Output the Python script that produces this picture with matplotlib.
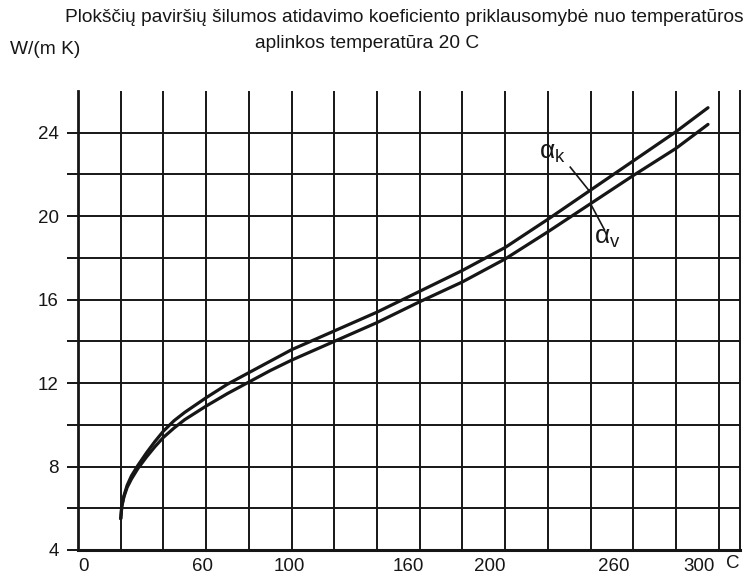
import numpy as np
import matplotlib
matplotlib.use("Agg")
import matplotlib.pyplot as plt
import matplotlib.transforms as mtransforms

# temperature of the plate surface, C
temp = [20, 20.5, 21.5, 23, 25, 28, 32, 36, 40, 45, 50, 60, 70, 80, 90, 100,
        120, 140, 160, 180, 200, 220, 240, 260, 280, 295]
# heat transfer coefficient, W/(m2 K)
alpha_k = [5.5, 6.1, 6.6, 7.1, 7.55, 8.05, 8.65, 9.2, 9.7, 10.2, 10.6, 11.3,
           11.95, 12.5, 13.05, 13.6, 14.5, 15.4, 16.4, 17.4, 18.5, 19.85,
           21.25, 22.65, 24.05, 25.2]
alpha_v = [5.5, 6.1, 6.55, 7.0, 7.4, 7.9, 8.45, 8.95, 9.4, 9.85, 10.25, 10.9,
           11.5, 12.05, 12.6, 13.1, 14.0, 14.9, 15.9, 16.85, 17.95, 19.25,
           20.6, 21.95, 23.25, 24.4]

xtick_vals = [0, 60, 100, 160, 200, 260, 300]
ytick_vals = [4, 8, 12, 16, 20, 24]

INK = "#161616"
plt.rcParams["font.family"] = ["Liberation Sans", "DejaVu Sans"]
plt.rcParams["mathtext.fontset"] = "custom"
plt.rcParams["mathtext.rm"] = "Liberation Sans"
plt.rcParams["mathtext.it"] = "Liberation Sans"

fig = plt.figure(figsize=(7.51, 5.79), dpi=100, facecolor="white")
ax = fig.add_axes([0.1039, 0.0501, 0.8815, 0.7927])
ax.set_xlim(0, 310)
ax.set_ylim(4, 26)

# hand-drawn style grid
for v in np.arange(6, 25, 2):
    ax.axhline(v, color=INK, lw=1.4, zorder=1)
for t in np.arange(20, 301, 20):
    ax.axvline(t, color=INK, lw=1.4, zorder=1)

ax.spines["top"].set_visible(False)
for s in ("left", "bottom", "right"):
    ax.spines[s].set_color(INK)
ax.spines["left"].set_linewidth(2.0)
ax.spines["bottom"].set_linewidth(2.2)
ax.spines["right"].set_linewidth(1.4)

ax.plot(temp, alpha_k, color=INK, lw=2.3, solid_capstyle="round",
        solid_joinstyle="round", zorder=3)
ax.plot(temp, alpha_v, color=INK, lw=2.3, solid_capstyle="round",
        solid_joinstyle="round", zorder=3)

# curve labels with leaders
ax.plot([230.5, 239.5], [22.35, 21.2], color=INK, lw=1.2, zorder=4)
ax.plot([240.5, 246.5], [20.5, 19.35], color=INK, lw=1.2, zorder=4)
ax.text(222, 23.05, r"$\alpha_k$", fontsize=19, ha="center", va="center", color=INK)
ax.text(248, 18.95, r"$\alpha_v$", fontsize=19, ha="center", va="center", color=INK)

ax.set_yticks(ytick_vals)
ax.set_yticks(np.arange(6, 24, 4), minor=True)
ax.tick_params(axis="y", which="both", direction="out", length=8, width=1.4,
               color=INK, pad=6, labelsize=13.5, labelcolor=INK)
ax.set_xticks(xtick_vals)
ax.tick_params(axis="x", length=0, pad=6, labelsize=13.5, labelcolor=INK)

# lettering on the original sits a bit off the grid lines
shift = [5, -4, -2, -11, -15, -20, -20]
for lab, dx in zip(ax.get_xticklabels(), shift):
    lab.set_transform(lab.get_transform() +
                      mtransforms.ScaledTranslation(dx / 100, 0, fig.dpi_scale_trans))
ax.text(733 / 751, 15 / 579, "C", transform=fig.transFigure, fontsize=13.5,
        ha="center", va="center", color=INK)

fig.text(65 / 751, 1 - 18 / 579,
         "Plokščių paviršių šilumos atidavimo koeficiento priklausomybė nuo temperatūros",
         fontsize=13.8, ha="left", va="center", color=INK)
fig.text(255 / 751, 1 - 43 / 579, "aplinkos temperatūra 20 C",
         fontsize=13.8, ha="left", va="center", color=INK)
fig.text(10 / 751, 1 - 50 / 579, "W/(m K)", fontsize=13.8, ha="left",
         va="center", color=INK)

fig.savefig("out.png", dpi=100, facecolor="white")
